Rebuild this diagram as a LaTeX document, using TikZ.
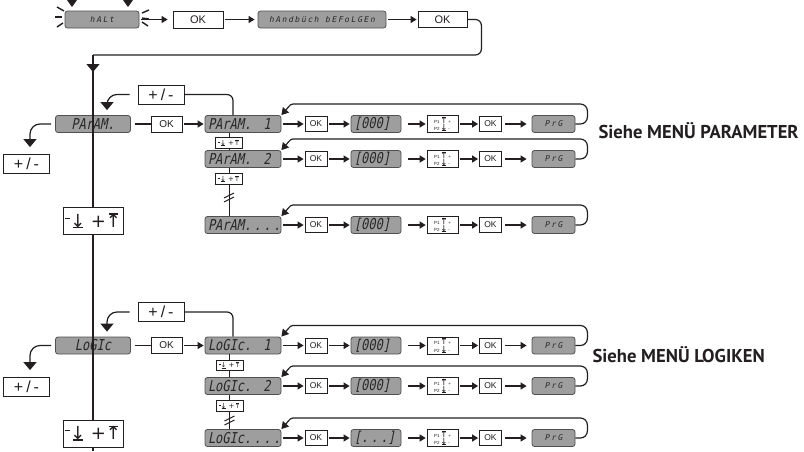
\documentclass[tikz,border=0pt]{standalone}
\usepackage{fontspec}
\usepackage{graphicx}
\setmainfont{Liberation Sans}
\newfontfamily\lcdfont[FakeSlant=0.2,FakeStretch=0.8]{DejaVu Sans Mono}
\newfontfamily\lcdsmall[FakeSlant=0.2,LetterSpace=20]{DejaVu Sans Mono}
\newfontfamily\symfont{DejaVu Sans}
\newfontfamily\notefont{PT Sans}
\usetikzlibrary{arrows.meta,positioning}
\definecolor{inkline}{RGB}{35,31,32}
\definecolor{lcdfill}{RGB}{158,158,158}
\definecolor{lcdedge}{RGB}{80,80,80}
\definecolor{lcdtext}{RGB}{40,40,40}
% arrow to bar, built from an arrow and a rule
\newcommand{\todn}{\ooalign{\symfont↓\cr\hidewidth\rule[-.06em]{.55em}{.09em}\hidewidth\cr}}
\newcommand{\toup}{\ooalign{\symfont↑\cr\hidewidth\rule[.68em]{.55em}{.09em}\hidewidth\cr}}
\newcommand{\dnup}{\raisebox{.45em}{\rule{.3em}{.08em}}\todn\hspace{.3em}+\toup}
\newcommand{\pkeys}{P1\,{\fontsize{8.5}{7.5}\selectfont\toup}\,+\\P2\,{\fontsize{8.5}{7.5}\selectfont\todn}\,-}
\tikzset{
  menu/.style={x=1pt,y=-1pt,line width=1.2pt,>={Triangle[length=6pt,width=7pt]}},
  lcd/.style={draw=lcdedge,fill=lcdfill,rounded corners=2.5pt,line width=0.8pt,
    text=lcdtext,inner sep=0pt,minimum height=17pt},
  lcdbig/.style={lcd,font=\lcdfont\fontsize{15}{15}\selectfont},
  lcdname/.style={lcdbig,minimum width=76pt,text width=70pt,align=left},
  lcdvalue/.style={lcdbig,minimum width=50pt,text width=44pt,align=left},
  lcdtiny/.style={lcd,font=\lcdsmall\fontsize{8}{8}\selectfont},
  keycap/.style={draw=inkline,fill=white,line width=0.8pt,inner sep=0pt,text=inkline},
  okkey/.style={keycap,minimum width=22pt,minimum height=15pt,font=\fontsize{8.5}{8.5}\selectfont},
  pmkey/.style={keycap,minimum width=46pt,minimum height=19pt,font=\fontsize{16}{16}\selectfont},
  scrollkey/.style={keycap,minimum width=60pt,minimum height=27pt,font=\symfont\fontsize{18}{18}\selectfont},
  scrollmini/.style={keycap,minimum width=27pt,minimum height=10.5pt,line width=0.6pt,font=\symfont\fontsize{7}{7}\selectfont},
  pkey/.style={keycap,minimum width=31pt,minimum height=17pt,line width=0.6pt,align=left,font=\fontsize{4.5}{7.5}\selectfont},
  link/.style={draw=inkline,line width=1.2pt},
  flow/.style={link,->,shorten >=1pt,shorten <=1.5pt},
  loopback/.style={link,->,rounded corners=7pt,>={Triangle[length=7pt,width=8pt]}},
  drop/.style={link,rounded corners=10pt,-{Triangle[length=8pt,width=13pt]}},
  trunk/.style={draw=inkline,line width=1.6pt},
  seenote/.style={font=\notefont\bfseries\fontsize{18.6}{18.6}\selectfont,text=inkline,inner sep=0pt},
}

\begin{document}
\begin{tikzpicture}[menu]
\useasboundingbox (0,0) rectangle (804,451);
% start-up chain
\node[lcdtiny,minimum width=74pt] (halt) at (102,19.5) {hALt};
\node[okkey,minimum width=50pt,minimum height=17pt,font=\fontsize{11}{11}\selectfont] (okA) at (198,19.5) {OK};
\node[lcdtiny,minimum width=128pt] (manual) at (322,19.5) {hAndbüch bEFoLGEn};
\node[okkey,minimum width=49pt,minimum height=16pt,font=\fontsize{11}{11}\selectfont] (okB) at (442.5,19.5) {OK};
\foreach \x in {72,128} {\fill[inkline] (\x-5,0)--(\x+5,0)--(\x,7)--cycle;}
\foreach \a/\b/\c/\d in {57/7/64/11,55/17/62/17,57/27/63/23,142/13/149/10,142/18/149/19,142/22/148/26}
  {\draw[inkline,line width=1.4pt] (\a,\b)--(\c,\d);}
\draw[flow,shorten >=5pt] (halt) -- (okA);
\draw[flow,shorten >=3pt] (okA) -- (manual);
\draw[flow] (manual) -- (okB);
\coordinate (junc) at (93,55);
\draw[link,rounded corners=6pt] (okB.east) -- ++(14,0) -- ++(0,35.5) -- (junc);
\draw[drop] (junc) -- ++(0,17);

% PARAM menu
\node[lcdbig,minimum width=75pt] (param) at (93,124) {PArAM.};
\node[okkey,minimum width=31pt,minimum height=16pt,font=\fontsize{10}{10}\selectfont] (okP) at (166.5,124) {OK};
\node[pmkey] (pmP) at (161,94.5) {+\hspace{3pt}/\hspace{3pt}-};
\node[pmkey] (pmPl) at (26.5,164) {+\hspace{3pt}/\hspace{3pt}-};
\node[scrollkey] (scP) at (93,221) {\dnup};
\draw[link,shorten <=4pt] (param) -- (okP);
\draw[drop] ([xshift=-8pt]pmP.west) -| ([xshift=14pt,yshift=5pt]param.north);
\draw[drop] ([xshift=-4pt]param.west) -| ([xshift=3.5pt,yshift=7pt]pmPl.north);

% LOGIC menu
\node[lcdbig,minimum width=75pt] (logic) at (93,345.5) {LoGIc};
\node[okkey,minimum width=31pt,minimum height=16pt,font=\fontsize{10}{10}\selectfont] (okL) at (166.5,345.5) {OK};
\node[pmkey] (pmL) at (161,312) {+\hspace{3pt}/\hspace{3pt}-};
\node[pmkey] (pmLl) at (26.5,387) {+\hspace{3pt}/\hspace{3pt}-};
\node[scrollkey] (scL) at (93,433.5) {\dnup};
\draw[link,shorten <=4pt] (logic) -- (okL);
\draw[drop] ([xshift=-8pt]pmL.west) -| ([xshift=14pt,yshift=5pt]logic.north);
\draw[drop] ([xshift=-4pt]logic.west) -| ([xshift=3.5pt,yshift=7pt]pmLl.north);

% sub-menu rows
\foreach \i/\y/\lbl/\val in {1/124/{PArAM.\hspace{12pt}1}/{[000]},
    2/159/{PArAM.\hspace{12pt}2}/{[000]},
    3/225/{PArAM.\,.\,.\,.}/{[000]},
    4/345.5/{LoGIc.\hspace{12pt}1}/{[000]},
    5/386/{LoGIc.\hspace{12pt}2}/{[000]},
    6/438/{LoGIc.\,.\,.\,.}/{[.\,.\,.]}} {
  \node[lcdname] (nm\i) at (243,\y) {\lbl};
  \node[okkey] (ok\i) at (316,\y) {OK};
  \node[lcdvalue] (val\i) at (376,\y) {\val};
  \node[pkey] (pk\i) at (442.5,\y) {\pkeys};
  \node[okkey] (okk\i) at (490.5,\y) {OK};
  \node[lcdtiny,minimum width=43pt] (prg\i) at (553.5,\y) {PrG};
  \draw[flow] (nm\i) -- (ok\i);
  \draw[flow] (ok\i) -- (val\i);
  \draw[flow,shorten <=7pt] (val\i) -- (pk\i);
  \draw[flow] (pk\i) -- (okk\i);
  \draw[flow,shorten <=3pt,shorten >=5pt] (okk\i) -- (prg\i);
  \draw[loopback] (prg\i.east) -- ++(12,0) -- ++(0,-20) -- (300,\y-20)
    .. controls (291,\y-20) .. (nm\i.north east);
}
\draw[flow] (okP) -- (nm1);
\draw[flow] (okL) -- (nm4);
\draw[link,rounded corners=6pt] (pmP.east) -| ([xshift=-10pt]nm1.north);
\draw[link,rounded corners=6pt] (pmL.east) -| ([xshift=-10pt]nm4.north);

% scroll keys between rows
\node[scrollmini] (smP1) at (229,143) {\dnup};
\node[scrollmini] (smP2) at (229,179) {\dnup};
\node[scrollmini] (smL1) at (229.5,365.5) {\dnup};
\node[scrollmini] (smL2) at (229.5,406) {\dnup};
\foreach \s/\a/\b in {smP1/nm1/nm2,smP2/nm2/nm3,smL1/nm4/nm5,smL2/nm5/nm6} {
  \draw[link,line width=1pt] (\s.north) -- (\s.north |- \a.south);
  \draw[link,line width=1pt] (\s.south) -- (\s.south |- \b.north);
}
\coordinate (brkP) at (229,197);
\coordinate (brkL) at (229.5,420);
\foreach \c in {brkP,brkL} {
  \draw[link,line width=1pt] (\c) ++(-5,1) -- ++(10,-5);
  \draw[link,line width=1pt] (\c) ++(-5,5) -- ++(10,-5);
}

% main trunk
\draw[trunk] (junc) -- (scP.north);
\draw[trunk] (scP.south) -- (scL.north);
\draw[trunk] (scL.south) -- (scL.south |- 0,451);

\node[seenote,anchor=base west] (seeP) at (598,138) {Siehe MENÜ PARAMETER};
\node[seenote,anchor=base west] (seeL) at (592,362) {Siehe MENÜ LOGIKEN};
\end{tikzpicture}
\end{document}
